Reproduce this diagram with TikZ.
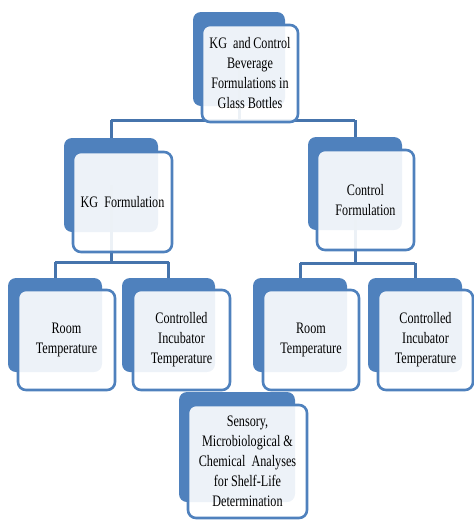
\documentclass[tikz,border=0pt]{standalone}
\usepackage{fontspec}
\setmainfont{Liberation Serif}
\newfontfamily\condfont[FakeStretch=0.76]{Liberation Serif}
\definecolor{accblue}{RGB}{79,129,189}
\definecolor{linkblue}{RGB}{70,116,172}
\tikzset{
  backbox/.style={draw=none, fill=accblue, rounded corners=8pt, inner sep=0pt},
  frontbox/.style={draw=accblue, line width=2.6pt, fill=white, fill opacity=0.9, text opacity=1,
    rounded corners=8pt, inner sep=0pt, align=center,
    font=\condfont\fontsize{16}{20}\selectfont},
  link/.style={draw=linkblue, line width=3pt},
}
\begin{document}
\begin{tikzpicture}[x=1pt,y=-1pt]
\useasboundingbox (0,0) rectangle (474,520);
% back boxes
\node[backbox, minimum width=92pt, minimum height=94pt] (topb) at (239,59) {};
\node[backbox, minimum width=94pt, minimum height=94pt] (kgb) at (111,185) {};
\node[backbox, minimum width=94pt, minimum height=93pt] (ctb) at (355,183.5) {};
\node[backbox, minimum width=94pt, minimum height=94pt] (r1b) at (55,325) {};
\node[backbox, minimum width=93pt, minimum height=94pt] (c1b) at (168.5,325) {};
\node[backbox, minimum width=94pt, minimum height=94pt] (r2b) at (300,325) {};
\node[backbox, minimum width=94pt, minimum height=94pt] (c2b) at (415,325) {};
\node[backbox, minimum width=116pt, minimum height=110pt] (anb) at (237,447) {};
% connectors
\coordinate (j0) at (239,120);
\coordinate (jl) at (111,120);
\coordinate (jr) at (355,120);
\draw[link] (topb.center) -- (j0);
\draw[link] (jl) -- (jr);
\draw[link] (jl) -- (kgb.north);
\draw[link] (jr) -- (ctb.north);
\coordinate (k0) at (111,262);
\coordinate (kl) at (55,262);
\coordinate (kr) at (168.5,262);
\draw[link] (kgb.center) -- (k0);
\draw[link] (kl) -- (kr);
\draw[link] (kl) -- (r1b.north);
\draw[link] (kr) -- (c1b.north);
\coordinate (m0) at (355,263);
\coordinate (ml) at (300,263);
\coordinate (mr) at (415,263);
\draw[link] (ctb.center) -- (m0);
\draw[link] (ml) -- (mr);
\draw[link] (ml) -- (r2b.north);
\draw[link] (mr) -- (c2b.north);
% front boxes
\node[frontbox, minimum width=96pt, minimum height=97pt] (top) at (250,73.5) {KG\ \ and\,Control\\Beverage\\Formulations in\\Glass Bottles};
\node[frontbox, minimum width=99pt, minimum height=100pt] (kg) at (122.5,202) {KG\ \ Formulation};
\node[frontbox, minimum width=97pt, minimum height=100pt] (ct) at (365.5,200) {Control\\Formulation};
\node[frontbox, minimum width=97pt, minimum height=100pt] (r1) at (66.5,340) {Room\\Temperature};
\node[frontbox, minimum width=97pt, minimum height=100pt] (c1) at (181.5,340) {Controlled\\Incubator\\Temperature};
\node[frontbox, minimum width=96pt, minimum height=100pt] (r2) at (311,340) {Room\\Temperature};
\node[frontbox, minimum width=95pt, minimum height=100pt] (c2) at (425.5,340) {Controlled\\Incubator\\Temperature};
\node[frontbox, minimum width=119pt, minimum height=113pt] (an) at (247.5,461.5) {Sensory,\\Microbiological \&\\Chemical\ \ Analyses\\for Shelf-Life\\Determination};
\end{tikzpicture}
\end{document}
